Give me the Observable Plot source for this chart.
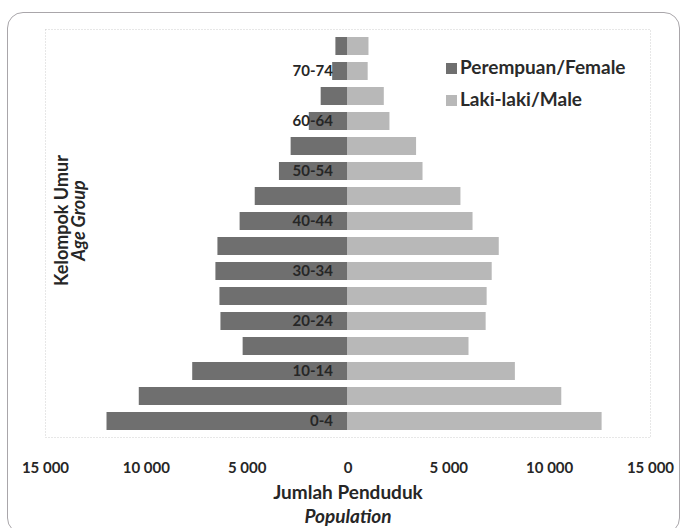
<!DOCTYPE html>
<html>
<head>
<meta charset="utf-8">
<script src="https://cdn.jsdelivr.net/npm/d3@7"></script>
<script src="https://cdn.jsdelivr.net/npm/@observablehq/plot@0.6"></script>
<style>
  html, body { margin: 0; padding: 0; background: #fff; }
  #wrap { position: relative; width: 687px; height: 528px; overflow: hidden; font-family: Lato, "Open Sans", sans-serif; }
  #border { position: absolute; left: 7px; top: 12px; width: 673px; height: 522px; border: 1.5px solid #a9a6aa; border-radius: 16px; box-sizing: border-box; pointer-events: none; }
  #legend { position: absolute; left: 446px; top: 51px; font-weight: bold; font-size: 19px; color: #2a2a2a; line-height: 32px; }
  #legend .sw { display: inline-block; width: 11px; height: 11px; margin-right: 3px; vertical-align: 0px; }
  svg { position: absolute; left: 0; top: 0; }
</style>
</head>
<body>
<div id="wrap"></div>
<script>
const ageGroups = ["0-4","5-9","10-14","15-19","20-24","25-29","30-34","35-39","40-44","45-49","50-54","55-59","60-64","65-69","70-74","75+"];
const female = [11950, 10350, 7700, 5200, 6300, 6350, 6550, 6450, 5350, 4600, 3400, 2820, 1920, 1330, 760, 600];
const male   = [12600, 10600, 8300, 6000, 6850, 6900, 7150, 7500, 6200, 5600, 3720, 3400, 2080, 1800, 1000, 1040];
const ageLabels = ["0-4","10-14","20-24","30-34","40-44","50-54","60-64","70-74"];
const xTicks = [-15000, -10000, -5000, 0, 5000, 10000, 15000];
const seriesNames = ["Perempuan/Female", "Laki-laki/Male"];
const seriesColors = ["#6f6f6f", "#b8b8b8"];

const rows = ageGroups.map((a, i) => ({age: a, female: female[i], male: male[i]}));
const fmt = v => {
  const s = String(Math.abs(v));
  return s.length > 3 ? s.slice(0, -3) + " " + s.slice(-3) : s;
};
const ink = "#262626";

const chart = Plot.plot({
  width: 687,
  height: 528,
  marginLeft: 45,
  marginRight: 37,
  marginTop: 29,
  marginBottom: 91,
  style: {fontFamily: "Lato, 'Open Sans', sans-serif", background: "transparent"},
  x: {domain: [-15000, 15000]},
  y: {type: "band", domain: [...ageGroups].reverse(), paddingInner: 0.3, paddingOuter: 0.12, axis: null},
  marks: [
    Plot.frame({stroke: "#cfcfcf", strokeDasharray: "1,2"}),
    Plot.barX(rows, {x1: 0, x2: d => -d.female, y: "age", fill: seriesColors[0]}),
    Plot.barX(rows, {x1: 0, x2: "male", y: "age", fill: seriesColors[1]}),
    Plot.text(ageLabels, {x: 0, y: d => d, text: d => d, textAnchor: "end", dx: -15, fontWeight: "bold", fontSize: 15, fill: ink}),
    Plot.axisX({ticks: xTicks, tickFormat: fmt, tickSize: 0, tickPadding: 25, fontWeight: "bold", fontSize: 15, color: ink, label: null}),
    Plot.text(["Jumlah Penduduk"], {frameAnchor: "bottom", dy: 55, text: d => d, textAnchor: "middle", fontWeight: "bold", fontSize: 19, fill: ink, lineAnchor: "middle"}),
    Plot.text(["Population"], {frameAnchor: "bottom", dy: 79, text: d => d, textAnchor: "middle", fontWeight: "bold", fontStyle: "italic", fontSize: 19, fill: ink, lineAnchor: "middle"}),
    Plot.text(["Kelompok Umur"], {frameAnchor: "left", dx: 17, dy: -13, rotate: -90, text: d => d, textAnchor: "middle", fontWeight: "bold", fontSize: 18, fill: ink, lineAnchor: "middle"}),
    Plot.text(["Age Group"], {frameAnchor: "left", dx: 34, dy: -13, rotate: -90, text: d => d, textAnchor: "middle", fontWeight: "bold", fontStyle: "italic", fontSize: 18, fill: ink, lineAnchor: "middle"})
  ]
});

const wrap = document.getElementById("wrap");
wrap.appendChild(chart);
const border = document.createElement("div");
border.id = "border";
wrap.appendChild(border);
const legend = document.createElement("div");
legend.id = "legend";
seriesNames.forEach((n, i) => {
  const row = document.createElement("div");
  const sw = document.createElement("span");
  sw.className = "sw";
  sw.style.background = seriesColors[i];
  row.appendChild(sw);
  row.appendChild(document.createTextNode(n));
  legend.appendChild(row);
});
wrap.appendChild(legend);
</script>
</body>
</html>
